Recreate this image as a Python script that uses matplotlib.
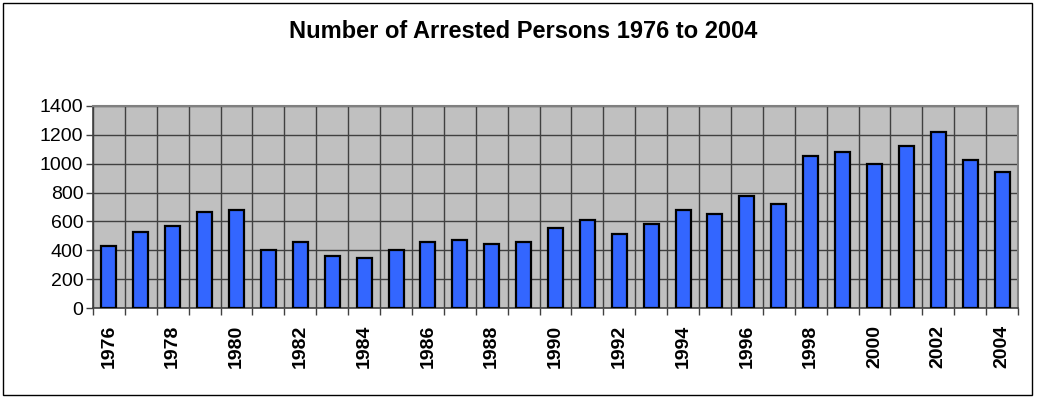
import numpy as np
from matplotlib import pyplot as plt
from matplotlib.patches import Rectangle

years = list(range(1976, 2005))
arrests = [430, 525, 570, 665, 680, 400, 458, 364, 348, 400,
           458, 472, 444, 458, 555, 610, 513, 583, 680, 652,
           776, 721, 1052, 1080, 997, 1121, 1218, 1025, 942]
y_ticks = [0, 200, 400, 600, 800, 1000, 1200, 1400]

plt.rcParams['font.family'] = ['Liberation Sans', 'DejaVu Sans']

W, H = 1038, 398
fig = plt.figure(figsize=(W / 100, H / 100), dpi=100)

# outer chart frame
fig.patches.append(Rectangle((3 / W, 1 - 395 / H), 1029 / W, 392 / H,
                             transform=fig.transFigure, fill=False,
                             edgecolor='black', linewidth=1))

left, right, top, bottom = 93, 1018, 105.7, 308.3
ax = fig.add_axes([left / W, 1 - bottom / H, (right - left) / W, (bottom - top) / H])
ax.set_facecolor('#c0c0c0')

x = np.arange(len(years))
ax.bar(x, arrests, width=0.47, color='#3366ff', edgecolor='black',
       linewidth=1.6, zorder=3)

ax.set_xlim(-0.5, len(years) - 0.5)
ax.set_ylim(0, 1400)
ax.set_yticks(y_ticks)
ax.set_yticklabels([str(v) for v in y_ticks], fontsize=14)

ax.set_xticks(x[::2])
ax.set_xticklabels([str(y) for y in years[::2]], rotation=90,
                   fontsize=14, fontweight='bold')
ax.set_xticks(np.arange(len(years) + 1) - 0.5, minor=True)
ax.tick_params(axis='x', which='major', length=0, pad=12)
ax.tick_params(axis='x', which='minor', length=5, width=1, color='#404040')
ax.tick_params(axis='y', length=5, width=1, color='#404040', pad=2)

ax.grid(True, axis='y', color='#404040', linewidth=1, zorder=1)
ax.grid(True, axis='x', which='minor', color='#404040', linewidth=1, zorder=1)
ax.set_axisbelow(True)

for side in ['top', 'right']:
    ax.spines[side].set_color('#808080')
    ax.spines[side].set_linewidth(1.5)
for side in ['left', 'bottom']:
    ax.spines[side].set_color('#404040')
    ax.spines[side].set_linewidth(1.2)

fig.text(523 / W, 1 - 32 / H, 'Number of Arrested Persons 1976 to 2004',
         ha='center', va='center', fontsize=17, fontweight='bold')

fig.savefig('out.png', dpi=100)
